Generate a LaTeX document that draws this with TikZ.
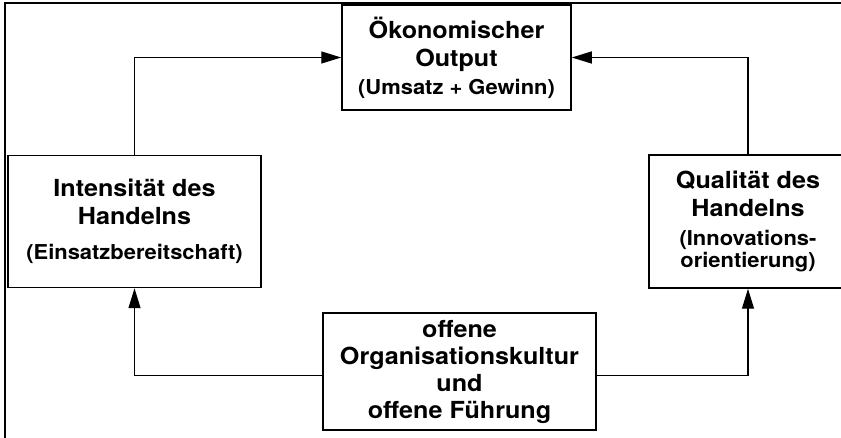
\documentclass[tikz,border=0pt]{standalone}
\usepackage{fontspec}
\setmainfont{TeX Gyre Heros}[FakeStretch=1.07]
\usetikzlibrary{arrows.meta}
\newcommand{\bigtxt}{\fontsize{11.75}{14}\selectfont\bfseries}
\newcommand{\smalltxt}{\fontsize{10.25}{10.5}\selectfont\bfseries}
\tikzset{
  box/.style={draw, line width=0.75pt, align=center, inner sep=0pt, font=\bigtxt},
  arr/.style={-{Triangle[length=10pt,width=6pt]}, line width=0.6pt},
  frame/.style={line width=0.6pt}
}

\begin{document}
\begin{tikzpicture}[x=0.5pt, y=-0.5pt]
  \useasboundingbox (0,0) rectangle (841,438);
  % Rahmen (rechts und unten abgeschnitten)
  \draw[frame] (5,3) rectangle (870,470);

  \node[box, minimum width=114.5pt, minimum height=52.5pt] (out) at (456.5,57.5)
    {Ökonomischer\\Output\\{\smalltxt (Umsatz + Gewinn)}};
  \node[box, minimum width=126.5pt, minimum height=66pt] (int) at (134.5,221.5)
    {Intensität des\\Handelns\\[3.5pt]{\smalltxt (Einsatzbereitschaft)}};
  \node[box, minimum width=99pt, minimum height=66.5pt] (qual) at (748,221.5)
    {Qualität des\\Handelns\\[0.5pt]{\smalltxt (Innovations-}\\[-3pt]{\smalltxt orientierung)}};
  \node[box, minimum width=136.5pt, minimum height=58.5pt] (org) at (459.5,371.5)
    {offene\\[-0.5pt]Organisationskultur\\[-0.5pt]und\\[-0.5pt]offene Führung};

  \draw[arr] (int.north) |- (out.west);
  \draw[arr] (qual.north) |- (out.east);
  \draw[arr] ([yshift=-2pt]org.west) -| (int.south);
  \draw[arr] ([yshift=-2pt]org.east) -| (qual.south);
\end{tikzpicture}
\end{document}
